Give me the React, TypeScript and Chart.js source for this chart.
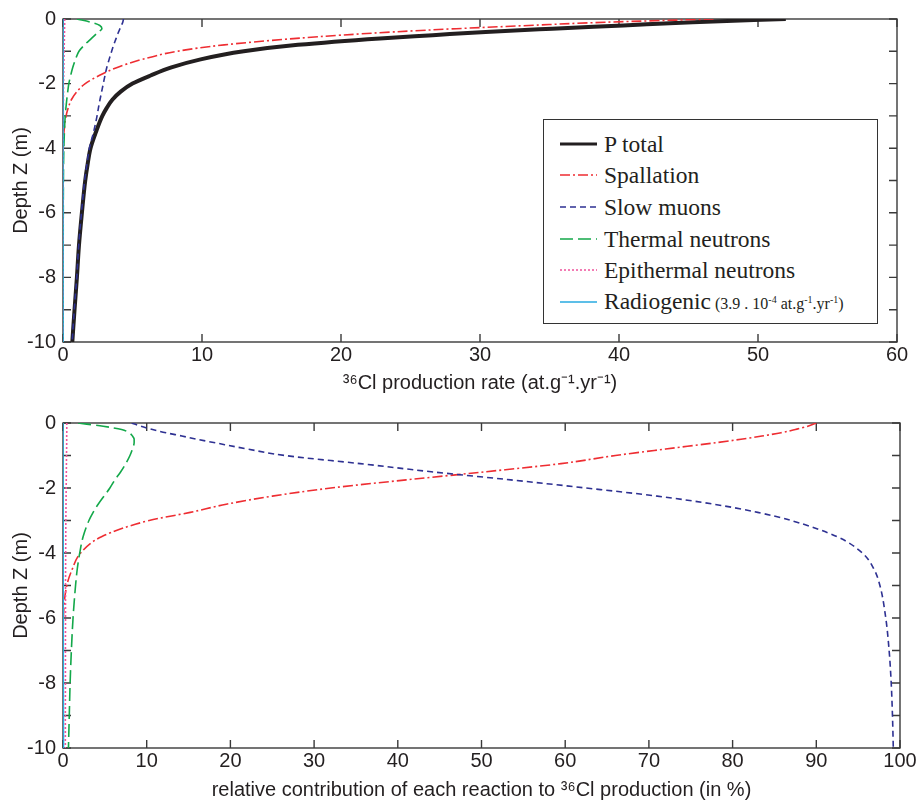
import React, { useEffect, useRef } from 'react';
import { Chart, registerables } from 'chart.js';

Chart.register(...registerables);

// ---------- data ----------
const DEPTH = [0, -0.1, -0.2, -0.3, -0.4, -0.5, -0.6, -0.8, -1.0, -1.25, -1.5, -1.75, -2.0, -2.25, -2.5, -2.75, -3.0, -3.5, -4.0, -4.5, -5.0, -6.0, -7.0, -8.0, -9.0, -10.0];

// top panel: production rate (at.g-1.yr-1)
const TOP_TOTAL = [52.0, 45.3, 40.3, 35.2, 30.4, 26.6, 22.8, 16.9, 13.0, 9.9, 7.8, 6.3, 5.0, 4.15, 3.55, 3.15, 2.83, 2.37, 1.98, 1.77, 1.6, 1.36, 1.15, 1.0, 0.83, 0.67];
const TOP_SPALL = [46.8, 39.0, 33.5, 28.3, 23.8, 20.0, 16.8, 11.6, 8.2, 5.7, 3.9, 2.6, 1.6, 1.0, 0.6, 0.38, 0.22, 0.07, 0.02, 0.01, 0, 0, 0, 0, 0, 0];
const TOP_MUON = [4.35, 4.3, 4.2, 4.1, 4.0, 3.9, 3.82, 3.65, 3.5, 3.32, 3.15, 3.02, 2.9, 2.78, 2.66, 2.55, 2.45, 2.2, 1.9, 1.72, 1.56, 1.33, 1.13, 0.99, 0.81, 0.66];
const TOP_THERMAL = [1.0, 2.0, 2.65, 2.8, 2.55, 2.3, 2.05, 1.55, 1.15, 0.9, 0.7, 0.55, 0.42, 0.34, 0.27, 0.21, 0.16, 0.1, 0.06, 0.04, 0.03, 0.02, 0.014, 0.01, 0.008, 0.006];
const TOP_EPI = [0.12, 0.12, 0.12, 0.11, 0.11, 0.1, 0.1, 0.09, 0.08, 0.07, 0.06, 0.05, 0.04, 0.035, 0.03, 0.025, 0.02, 0.015, 0.01, 0.008, 0.006, 0.005, 0.004, 0.003, 0.003, 0.003];
const TOP_RADIO = [0.00039, 0.00039, 0.00039, 0.00039, 0.00039, 0.00039, 0.00039, 0.00039, 0.00039, 0.00039, 0.00039, 0.00039, 0.00039, 0.00039, 0.00039, 0.00039, 0.00039, 0.00039, 0.00039, 0.00039, 0.00039, 0.00039, 0.00039, 0.00039, 0.00039, 0.00039];

// bottom panel: relative contribution (%)
const BOT_SPALL = [90, 89, 87.5, 85.8, 83.5, 81, 78.2, 72, 66, 59.5, 50.5, 41, 32, 25, 19.5, 15.2, 10.3, 4.6, 2.1, 1.1, 0.45, 0.05, 0.01, 0, 0, 0];
const BOT_MUON = [8.2, 9.3, 10.7, 12.3, 14.2, 16, 18, 22, 26.5, 35.5, 44, 53.5, 62.5, 71, 77.8, 83, 87, 92.5, 95.5, 96.9, 97.6, 98.3, 98.7, 98.95, 99.1, 99.2];
const BOT_THERMAL = [1.8, 4.8, 7.0, 7.9, 8.3, 8.5, 8.5, 8.3, 8.0, 7.5, 6.9, 6.2, 5.6, 4.9, 4.2, 3.6, 3.1, 2.4, 2.0, 1.7, 1.5, 1.2, 1.0, 0.85, 0.75, 0.65];
const BOT_EPI = [0.45, 0.45, 0.45, 0.45, 0.44, 0.44, 0.44, 0.43, 0.42, 0.41, 0.4, 0.39, 0.38, 0.37, 0.36, 0.35, 0.34, 0.33, 0.32, 0.31, 0.3, 0.3, 0.29, 0.29, 0.28, 0.28];
const BOT_RADIO = [0.001, 0.001, 0.001, 0.001, 0.001, 0.001, 0.002, 0.002, 0.003, 0.004, 0.005, 0.006, 0.008, 0.009, 0.011, 0.012, 0.014, 0.016, 0.02, 0.022, 0.024, 0.029, 0.034, 0.039, 0.047, 0.058];

// tick marks
const Y_TICK_MARKS = [0, -1, -2, -3, -4, -5, -6, -7, -8, -9, -10];
const TOP_X_TICK_MARKS = [0, 10, 20, 30, 40, 50, 60];
const BOT_X_TICK_MARKS = [0, 10, 20, 30, 40, 50, 60, 70, 80, 90, 100];

const SERIES_LABELS = ['P total', 'Spallation', 'Slow muons', 'Thermal neutrons', 'Epithermal neutrons', 'Radiogenic'];

// ---------- styles ----------
const TEXT = '#231f20';
const SANS = '"Liberation Sans", Arial, Helvetica, sans-serif';
const SERIF = '"Liberation Serif", "Times New Roman", serif';
const C_BLACK = '#231f20';
const C_RED = '#ee2d32';
const C_BLUE = '#2e3192';
const C_GREEN = '#13a84a';
const C_PINK = '#f0529c';
const C_CYAN = '#27aae1';

const STYLE: Record<string, { color: string; width: number; dash: number[] }> = {
  'P total': { color: C_BLACK, width: 4, dash: [] },
  Spallation: { color: C_RED, width: 1.6, dash: [10, 3, 2, 3] },
  'Slow muons': { color: C_BLUE, width: 1.6, dash: [6, 4] },
  'Thermal neutrons': { color: C_GREEN, width: 1.6, dash: [13, 5] },
  'Epithermal neutrons': { color: C_PINK, width: 1.6, dash: [2, 2] },
  Radiogenic: { color: C_CYAN, width: 1.6, dash: [] },
};

const pts = (vals: number[]) => DEPTH.map((d, i) => ({ x: vals[i], y: d }));

const ds = (label: string, vals: number[]) => ({
  label,
  data: pts(vals),
  borderColor: STYLE[label].color,
  backgroundColor: STYLE[label].color,
  borderWidth: STYLE[label].width,
  borderDash: STYLE[label].dash,
  pointRadius: 0,
  fill: false,
  cubicInterpolationMode: 'monotone',
});

const framePlugin = {
  id: 'frame',
  beforeDatasetsDraw(chart: any, _args: any, opts: any) {
    const { ctx, chartArea: a, scales } = chart;
    const xs = scales.x;
    const ys = scales.y;
    ctx.save();
    ctx.strokeStyle = '#3a3a3a';
    ctx.lineWidth = 1.4;
    ctx.strokeRect(a.left, a.top, a.right - a.left, a.bottom - a.top);
    const L = 8;
    ctx.beginPath();
    for (const v of opts.xTicks || []) {
      const p = xs.getPixelForValue(v);
      ctx.moveTo(p, a.bottom);
      ctx.lineTo(p, a.bottom - L);
      ctx.moveTo(p, a.top);
      ctx.lineTo(p, a.top + L);
    }
    for (const v of opts.yTicks || []) {
      const p = ys.getPixelForValue(v);
      ctx.moveTo(a.left, p);
      ctx.lineTo(a.left + L, p);
      ctx.moveTo(a.right, p);
      ctx.lineTo(a.right - L, p);
    }
    ctx.stroke();
    ctx.restore();
  },
};

interface PanelCfg {
  datasets: any[];
  xMax: number;
  xTitle: string;
  xTicks: number[];
  padTop: number;
  padRight: number;
  xScaleHeight: number;
  xTickPad: number;
  xTitlePad: number;
}

function makeConfig(c: PanelCfg): any {
  const tickFont = { family: SANS, size: 20 };
  return {
    type: 'line',
    data: { datasets: c.datasets },
    plugins: [framePlugin],
    options: {
      responsive: false,
      animation: false,
      devicePixelRatio: 1,
      indexAxis: 'y',
      events: [],
      layout: { padding: { top: c.padTop, right: c.padRight, left: 0, bottom: 0 } },
      plugins: {
        legend: { display: false },
        tooltip: { enabled: false },
        frame: { xTicks: c.xTicks, yTicks: Y_TICK_MARKS },
      },
      scales: {
        x: {
          type: 'linear',
          position: 'bottom',
          min: 0,
          max: c.xMax,
          ticks: { stepSize: 10, color: TEXT, font: tickFont, padding: c.xTickPad, maxRotation: 0, autoSkip: false },
          grid: { display: false, drawTicks: false },
          border: { display: false },
          title: { display: true, text: c.xTitle, color: TEXT, font: { family: SANS, size: 20 }, padding: { top: 0, bottom: c.xTitlePad } },
          afterFit: (s: any) => { s.height = c.xScaleHeight; },
        },
        y: {
          type: 'linear',
          position: 'left',
          min: -10,
          max: 0,
          ticks: { stepSize: 2, color: TEXT, font: tickFont, padding: 7, autoSkip: false },
          grid: { display: false, drawTicks: false },
          border: { display: false },
          title: { display: true, text: 'Depth Z (m)', color: TEXT, font: { family: SANS, size: 20 }, padding: { top: 9, bottom: 0 } },
          afterFit: (s: any) => { s.width = 63; },
        },
      },
    },
  };
}

function Panel({ cfg, top, height }: { cfg: PanelCfg; top: number; height: number }) {
  const ref = useRef<HTMLCanvasElement | null>(null);
  useEffect(() => {
    if (!ref.current) return;
    const chart = new Chart(ref.current, makeConfig(cfg));
    return () => chart.destroy();
  }, []);
  return (
    <canvas
      ref={ref}
      width={922}
      height={height}
      style={{ position: 'absolute', left: 0, top, width: 922, height }}
    />
  );
}

function LegendSample({ label }: { label: string }) {
  const s = STYLE[label];
  return (
    <svg width={38} height={32} style={{ display: 'block', flex: '0 0 auto' }}>
      <line
        x1={0}
        y1={16}
        x2={37}
        y2={16}
        stroke={s.color}
        strokeWidth={label === 'P total' ? 3 : 1.6}
        strokeDasharray={s.dash.length ? s.dash.join(' ') : undefined}
      />
    </svg>
  );
}

function Legend() {
  const rowTops = [8, 39, 71, 103, 134, 166];
  const sup: React.CSSProperties = { fontSize: 10, verticalAlign: 'super', lineHeight: 0 };
  return (
    <div
      style={{
        position: 'absolute',
        left: 543,
        top: 119,
        width: 335,
        height: 205,
        boxSizing: 'border-box',
        border: '1.4px solid #333',
        background: '#fff',
        fontFamily: SERIF,
        color: TEXT,
      }}
    >
      {SERIES_LABELS.map((lab, i) => (
        <div
          key={lab}
          style={{
            position: 'absolute',
            left: 16,
            top: rowTops[i],
            height: 32,
            display: 'flex',
            alignItems: 'center',
            whiteSpace: 'nowrap',
          }}
        >
          <LegendSample label={lab} />
          <span style={{ marginLeft: 6, fontSize: 23.5, lineHeight: '32px' }}>
            {lab}
            {lab === 'Radiogenic' ? (
              <span style={{ fontSize: 16 }}>
                {' (3.9 . 10'}
                <span style={sup}>-4</span>
                {' at.g'}
                <span style={sup}>-1</span>
                {'.yr'}
                <span style={sup}>-1</span>
                {')'}
              </span>
            ) : null}
          </span>
        </div>
      ))}
    </div>
  );
}

const topCfg: PanelCfg = {
  datasets: [
    ds('Radiogenic', TOP_RADIO),
    ds('Epithermal neutrons', TOP_EPI),
    ds('Thermal neutrons', TOP_THERMAL),
    ds('Slow muons', TOP_MUON),
    ds('Spallation', TOP_SPALL),
    ds('P total', TOP_TOTAL),
  ],
  xMax: 60,
  xTitle: '³⁶Cl production rate (at.g⁻¹.yr⁻¹)',
  xTicks: TOP_X_TICK_MARKS,
  padTop: 17,
  padRight: 25,
  xScaleHeight: 58,
  xTickPad: 1,
  xTitlePad: 5,
};

const botCfg: PanelCfg = {
  datasets: [
    ds('Radiogenic', BOT_RADIO),
    ds('Epithermal neutrons', BOT_EPI),
    ds('Thermal neutrons', BOT_THERMAL),
    ds('Slow muons', BOT_MUON),
    ds('Spallation', BOT_SPALL),
  ],
  xMax: 100,
  xTitle: 'relative contribution of each reaction to ³⁶Cl production (in %)',
  xTicks: BOT_X_TICK_MARKS,
  padTop: 23,
  padRight: 22,
  xScaleHeight: 56,
  xTickPad: 1,
  xTitlePad: 2,
};

export default function App() {
  return (
    <div style={{ position: 'absolute', left: 0, top: 0, width: 922, height: 804, background: '#fff', overflow: 'hidden' }}>
      <Panel cfg={topCfg} top={0} height={400} />
      <Panel cfg={botCfg} top={400} height={404} />
      <Legend />
    </div>
  );
}
